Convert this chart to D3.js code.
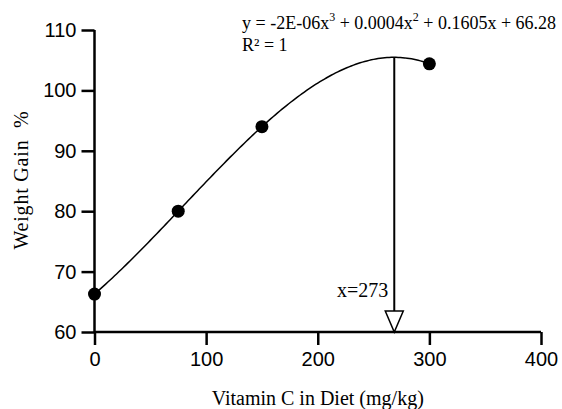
<!DOCTYPE html>
<html>
<head>
    <title>Weight Gain vs Vitamin C</title>
    <script src="https://d3js.org/d3.v7.min.js"></script>
    <style>
        body { margin: 0; background: #fff; }
        .tick text { font-family: "Liberation Sans", Arial, sans-serif; font-size: 20px; }
        .serif { font-family: "Liberation Serif", "Times New Roman", serif; }
    </style>
</head>
<body>
    <svg width="562" height="409"></svg>

    <script>
        // Observed data
        var vitaminC = [0, 75, 150, 300];
        var weightGain = [66.28, 80, 94, 104.4];
        var xTicks = [0, 100, 200, 300, 400];
        var yTicks = [60, 70, 80, 90, 100, 110];
        var eqLine1 = ["y = -2E-06x", "3", " + 0.0004x", "2", " + 0.1605x + 66.28"];
        var eqLine2 = "R² = 1";
        var arrowLabel = "x=273";

        var margin = {top: 30, right: 21, bottom: 77, left: 94.5},
            width = 562 - margin.left - margin.right,
            height = 409 - margin.top - margin.bottom;

        var x = d3.scaleLinear().domain([0, 400]).range([0, width]);
        var y = d3.scaleLinear().domain([60, 110]).range([height, 0]);

        var svg = d3.select("svg")
          .append("g")
            .attr("transform", "translate(" + margin.left + "," + margin.top + ")");

        // cubic trendline: least squares (order 3) fitted to the data
        function solve(A, b) {
            var n = b.length, M = A.map(function(r, i) { return r.concat([b[i]]); });
            for (var i = 0; i < n; i++) {
                var p = i;
                for (var k = i + 1; k < n; k++) if (Math.abs(M[k][i]) > Math.abs(M[p][i])) p = k;
                var t = M[i]; M[i] = M[p]; M[p] = t;
                for (var k = i + 1; k < n; k++) {
                    var f = M[k][i] / M[i][i];
                    for (var j = i; j <= n; j++) M[k][j] -= f * M[i][j];
                }
            }
            var s = new Array(n);
            for (var i = n - 1; i >= 0; i--) {
                var v = M[i][n];
                for (var j = i + 1; j < n; j++) v -= M[i][j] * s[j];
                s[i] = v / M[i][i];
            }
            return s;
        }
        var A = [], b = [];
        for (var i = 0; i < 4; i++) {
            A.push([0, 1, 2, 3].map(function(j) {
                return d3.sum(vitaminC, function(v) { return Math.pow(v, i + j); });
            }));
            b.push(d3.sum(vitaminC, function(v, k) { return Math.pow(v, i) * weightGain[k]; }));
        }
        var coef = solve(A, b);
        function poly(v) { return coef[0] + coef[1] * v + coef[2] * v * v + coef[3] * v * v * v; }

        var trend = d3.range(0, 300.5, 2).map(function(v) { return [v, poly(v)]; });
        var line = d3.line()
            .x(function(d) { return x(d[0]); })
            .y(function(d) { return y(d[1]); });

        svg.append("path")
            .datum(trend)
            .attr("d", line)
            .attr("fill", "none")
            .attr("stroke", "#000")
            .attr("stroke-width", 1.5);

        // peak of the curve (where the arrow drops)
        var disc = Math.sqrt(4 * coef[2] * coef[2] - 12 * coef[3] * coef[1]);
        var peakX = (-2 * coef[2] - disc) / (6 * coef[3]);
        var peakY = poly(peakX);

        var triH = 21, triW = 9;
        svg.append("line")
            .attr("x1", x(peakX)).attr("x2", x(peakX))
            .attr("y1", y(peakY)).attr("y2", height - triH)
            .attr("stroke", "#000")
            .attr("stroke-width", 2);

        // Axes
        var xAxis = svg.append("g")
            .attr("transform", "translate(0," + height + ")")
            .call(d3.axisBottom(x).tickValues(xTicks).tickSize(13).tickPadding(7));
        var yAxis = svg.append("g")
            .call(d3.axisLeft(y).tickValues(yTicks).tickSize(13).tickPadding(5));
        [xAxis, yAxis].forEach(function(g) {
            g.selectAll("path, line").attr("stroke", "#000").attr("stroke-width", 2.5);
            g.select(".domain").attr("d", g === xAxis ? "M0,0H" + width : "M0,0V" + height);
            g.selectAll("text").attr("fill", "#000");
        });

        svg.append("path")
            .attr("d", "M" + (x(peakX) - triW) + "," + (height - triH) +
                       "L" + (x(peakX) + triW) + "," + (height - triH) +
                       "L" + x(peakX) + "," + height + "Z")
            .attr("fill", "#fff")
            .attr("stroke", "#000")
            .attr("stroke-width", 1.5);

        svg.selectAll(".dot")
            .data(vitaminC)
          .enter().append("circle")
            .attr("class", "dot")
            .attr("cx", function(d) { return x(d); })
            .attr("cy", function(d, i) { return y(weightGain[i]); })
            .attr("r", 6.5)
            .attr("fill", "#000");

        svg.append("text")
            .attr("class", "serif")
            .attr("x", x(peakX) - 6)
            .attr("y", height - 35)
            .attr("text-anchor", "end")
            .attr("font-size", 20)
            .text(arrowLabel);

        // equation
        var eq = svg.append("text")
            .attr("class", "serif")
            .attr("x", 242 - margin.left)
            .attr("y", -1)
            .attr("font-size", 18);
        eqLine1.forEach(function(s, i) {
            var sup = i % 2 === 1;
            eq.append("tspan")
                .attr("dy", sup ? -8 : (i === 0 ? 0 : 8))
                .attr("font-size", sup ? 12 : 18)
                .text(s);
        });
        svg.append("text")
            .attr("class", "serif")
            .attr("x", 242 - margin.left)
            .attr("y", 21)
            .attr("font-size", 18)
            .text(eqLine2);

        // axis titles
        svg.append("text")
            .attr("class", "serif")
            .attr("x", width / 2)
            .attr("y", height + 73)
            .attr("text-anchor", "middle")
            .attr("font-size", 20)
            .text("Vitamin C in Diet (mg/kg)");

        svg.append("text")
            .attr("class", "serif")
            .attr("transform", "rotate(-90)")
            .attr("x", -(180 - margin.top))
            .attr("y", 28 - margin.left)
            .attr("text-anchor", "middle")
            .attr("font-size", 20)
            .attr("letter-spacing", 0.8)
            .style("white-space", "pre")
            .text("Weight Gain  %");
    </script>
</body>
</html>
